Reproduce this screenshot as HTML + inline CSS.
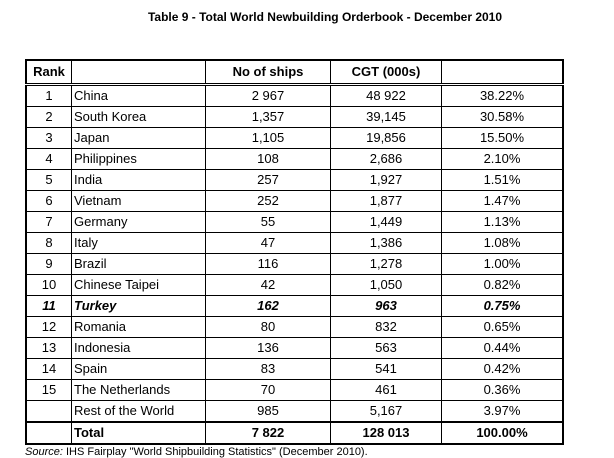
<!DOCTYPE html>
<html><head><style>
body{margin:0;width:614px;height:458px;background:#fff;font-family:"Liberation Sans",Arial,sans-serif;color:#000;position:relative;overflow:hidden}
.title{position:absolute;top:10px;left:0;width:650px;text-align:center;font-weight:bold;font-size:12px}
table{position:absolute;left:25px;top:59px;border-collapse:collapse;border:2.5px solid #000;font-size:13px}
td{border:1px solid #000;padding:0;height:20px;line-height:20px}
td.r{width:44px;text-align:center}
td.c{width:131px;padding-left:2px;text-align:left}
td.s{width:124px;text-align:center}
td.g{width:110px;text-align:center}
td.p{width:120px;text-align:center}
tr.h td{height:21px;font-weight:bold;border-bottom:3px double #000;vertical-align:top;line-height:22px}
tr.b td{font-weight:bold;font-style:italic}
tr.t td{font-weight:bold;border-top:2px solid #000}
.src{position:absolute;left:25px;top:446px;font-size:11px}
</style></head><body>
<div class="title">Table 9 - Total World Newbuilding Orderbook - December 2010</div>
<table>
<tr class="h"><td class="r">Rank</td><td class="c"></td><td class="s">No of ships</td><td class="g">CGT (000s)</td><td class="p"></td></tr>
<tr><td class="r">1</td><td class="c">China</td><td class="s">2 967</td><td class="g">48 922</td><td class="p">38.22%</td></tr>
<tr><td class="r">2</td><td class="c">South Korea</td><td class="s">1,357</td><td class="g">39,145</td><td class="p">30.58%</td></tr>
<tr><td class="r">3</td><td class="c">Japan</td><td class="s">1,105</td><td class="g">19,856</td><td class="p">15.50%</td></tr>
<tr><td class="r">4</td><td class="c">Philippines</td><td class="s">108</td><td class="g">2,686</td><td class="p">2.10%</td></tr>
<tr><td class="r">5</td><td class="c">India</td><td class="s">257</td><td class="g">1,927</td><td class="p">1.51%</td></tr>
<tr><td class="r">6</td><td class="c">Vietnam</td><td class="s">252</td><td class="g">1,877</td><td class="p">1.47%</td></tr>
<tr><td class="r">7</td><td class="c">Germany</td><td class="s">55</td><td class="g">1,449</td><td class="p">1.13%</td></tr>
<tr><td class="r">8</td><td class="c">Italy</td><td class="s">47</td><td class="g">1,386</td><td class="p">1.08%</td></tr>
<tr><td class="r">9</td><td class="c">Brazil</td><td class="s">116</td><td class="g">1,278</td><td class="p">1.00%</td></tr>
<tr><td class="r">10</td><td class="c">Chinese Taipei</td><td class="s">42</td><td class="g">1,050</td><td class="p">0.82%</td></tr>
<tr class="b"><td class="r">11</td><td class="c">Turkey</td><td class="s">162</td><td class="g">963</td><td class="p">0.75%</td></tr>
<tr><td class="r">12</td><td class="c">Romania</td><td class="s">80</td><td class="g">832</td><td class="p">0.65%</td></tr>
<tr><td class="r">13</td><td class="c">Indonesia</td><td class="s">136</td><td class="g">563</td><td class="p">0.44%</td></tr>
<tr><td class="r">14</td><td class="c">Spain</td><td class="s">83</td><td class="g">541</td><td class="p">0.42%</td></tr>
<tr><td class="r">15</td><td class="c">The Netherlands</td><td class="s">70</td><td class="g">461</td><td class="p">0.36%</td></tr>
<tr><td class="r"></td><td class="c">Rest of the World</td><td class="s">985</td><td class="g">5,167</td><td class="p">3.97%</td></tr>
<tr class="t"><td class="r"></td><td class="c">Total</td><td class="s">7 822</td><td class="g">128 013</td><td class="p">100.00%</td></tr>
</table>
<div class="src"><i>Source:</i> IHS Fairplay "World Shipbuilding Statistics" (December 2010).</div>
</body></html>
